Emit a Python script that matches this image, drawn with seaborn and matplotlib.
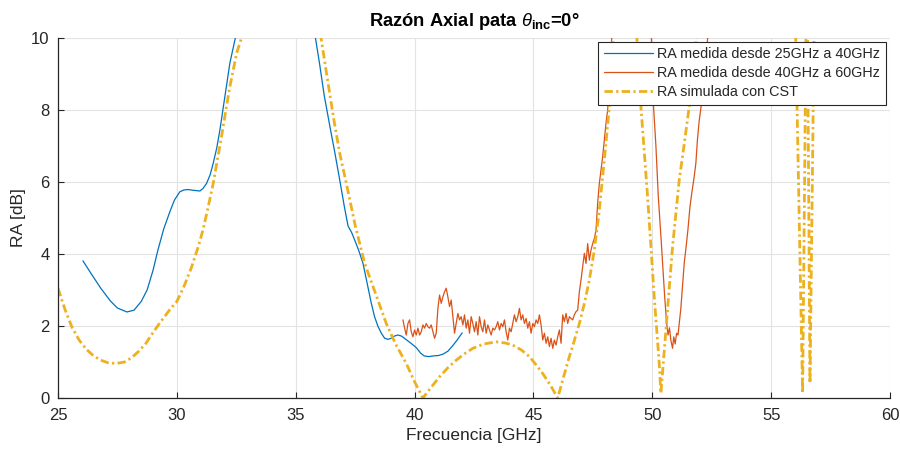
import matplotlib
matplotlib.use("Agg")
import matplotlib.pyplot as plt
import seaborn as sns
import pandas as pd

# ---------------- data ----------------
blue_freq = [26.05, 26.4, 26.8, 27.2, 27.5, 27.9, 28.2, 28.5, 28.75, 29.0, 29.2, 29.45,
             29.71, 29.9, 30.13, 30.3, 30.48, 30.7, 30.97, 31.1, 31.25, 31.4, 31.53,
             31.68, 31.81, 32.02, 32.23, 32.46, 32.7, 33.5, 34.5, 35.3, 35.83, 36.0,
             36.2, 36.45, 36.65, 36.85, 37.05, 37.2, 37.35, 37.48, 37.65, 37.83, 38.0,
             38.18, 38.32, 38.46, 38.6, 38.74, 38.88, 39.02, 39.15, 39.3, 39.45, 39.65,
             39.85, 40.07, 40.25, 40.4, 40.6, 40.8, 41.0, 41.2, 41.4, 41.6, 41.8, 42.0]
blue_ra = [3.81, 3.45, 3.05, 2.7, 2.5, 2.39, 2.44, 2.68, 3.0, 3.55, 4.1, 4.7,
           5.18, 5.5, 5.73, 5.78, 5.79, 5.77, 5.75, 5.82, 5.96, 6.2, 6.52,
           6.95, 7.44, 8.37, 9.3, 10.0, 11.5, 14.0, 14.0, 11.8, 10.0, 9.3,
           8.4, 7.5, 6.8, 6.06, 5.3, 4.78, 4.6, 4.39, 4.1, 3.74, 3.2,
           2.63, 2.25, 1.99, 1.8, 1.66, 1.63, 1.66, 1.72, 1.75, 1.72, 1.62,
           1.52, 1.40, 1.25, 1.17, 1.15, 1.17, 1.18, 1.22, 1.3, 1.45, 1.62, 1.81]

orange_freq = [39.51, 39.58, 39.65, 39.72, 39.79, 39.86, 39.93, 40.00, 40.07, 40.14,
               40.21, 40.28, 40.35, 40.42, 40.49, 40.56, 40.63, 40.70, 40.77, 40.84,
               40.91, 40.98, 41.05, 41.12, 41.19, 41.26, 41.33, 41.40, 41.47, 41.54,
               41.61, 41.68, 41.75, 41.82, 41.89, 41.96, 42.03, 42.10, 42.17, 42.24,
               42.31, 42.38, 42.45, 42.52, 42.59, 42.66, 42.73, 42.80, 42.87, 42.94,
               43.01, 43.08, 43.15, 43.22, 43.29, 43.36,
               43.43, 43.50, 43.57, 43.64, 43.71, 43.78, 43.85, 43.92, 43.99, 44.06,
               44.13, 44.20, 44.27, 44.34, 44.41, 44.48, 44.55, 44.62, 44.69, 44.76,
               44.83, 44.90, 44.97, 45.04, 45.11, 45.18, 45.25, 45.32, 45.39, 45.46,
               45.53, 45.60, 45.67, 45.74, 45.81, 45.88, 45.95, 46.02, 46.09, 46.16,
               46.23, 46.30, 46.37, 46.44, 46.51, 46.58, 46.65, 46.72, 46.79, 46.86,
               46.93,
               47.00, 47.14, 47.21, 47.28, 47.35, 47.42, 47.49, 47.56, 47.63, 47.70,
               47.77, 47.84, 47.91, 47.98, 48.05, 48.12, 48.19, 48.26, 48.33,
               48.6, 49.2, 49.8, 49.95, 50.05, 50.15, 50.25, 50.35, 50.43, 50.52,
               50.6, 50.66, 50.72, 50.78, 50.85, 50.9, 50.96, 51.02, 51.08, 51.13,
               51.2, 51.27, 51.34, 51.42, 51.5, 51.58, 51.66, 51.75, 51.83, 51.9,
               51.97, 52.05, 52.12, 52.2, 52.28, 52.36, 52.8, 54.0, 56.0, 58.0, 60.0]
orange_ra = [2.17, 1.94, 1.75, 2.07, 2.17, 1.84, 1.70, 1.89, 1.75, 1.94,
             1.75, 1.84, 2.03, 1.94, 2.07, 1.98, 1.94, 2.03, 1.84, 1.66,
             1.80, 2.49, 2.86, 2.63, 2.81, 2.95, 3.05, 2.81, 2.54, 2.72,
             2.26, 1.80, 2.07, 2.35, 2.17, 2.26, 2.03, 2.31, 1.94, 2.17,
             1.80, 2.26, 2.07, 1.84, 2.12, 1.75, 2.26, 1.98, 1.84, 2.17,
             1.80, 2.03, 1.89, 1.75, 1.94, 1.89,
             1.98, 2.12, 1.89, 2.07, 1.98, 2.17, 1.84, 1.61, 1.94, 1.84,
             2.07, 2.31, 2.12, 2.26, 2.49, 2.17, 2.31, 2.07, 2.21, 1.94,
             2.12, 1.80, 2.07, 1.98, 2.17, 2.07, 2.31, 2.03, 1.61, 1.80,
             1.52, 1.70, 1.43, 1.66, 1.38, 1.61, 1.47, 1.70, 1.89, 1.52,
             2.31, 2.12, 2.35, 2.07, 2.26, 2.21, 2.17, 2.31, 2.40, 2.44,
             2.95,
             3.28, 4.02, 3.74, 4.29, 3.83, 4.11, 4.29, 4.43, 4.66, 5.41,
             5.96, 6.33, 6.70, 7.16, 7.63, 8.00, 8.74, 9.66, 10.4,
             12.5, 13.5, 11.5, 10.2, 8.1, 7.0, 5.6, 4.6, 3.74, 2.8,
             2.1, 1.75, 1.95, 1.6, 1.38, 1.7, 1.5, 1.8, 1.75, 2.07,
             2.5, 3.1, 3.74, 4.2, 4.7, 5.3, 5.7, 6.1, 6.52, 7.2,
             7.7, 8.09, 8.5, 9.0, 9.6, 10.3, 12.5, 14.0, 13.5, 14.5, 13.0]

cst_freq = [25.0, 25.3, 25.6, 25.9, 26.2, 26.5, 26.8, 27.1, 27.45, 27.8, 28.1, 28.4,
            28.7, 29.0, 29.3, 29.7, 30.0, 30.3, 30.6, 30.9, 31.1, 31.3, 31.53, 31.7,
            31.88, 32.05, 32.23, 32.4, 32.51, 32.72, 33.0, 34.0, 35.0, 35.6, 36.08,
            36.3, 36.6, 36.85, 37.13, 37.5, 37.9, 38.25, 38.81, 39.2, 39.65, 40.0,
            40.35, 40.7, 41.05, 41.4, 41.75, 42.1, 42.45, 42.9, 43.43, 43.8, 44.13,
            44.5, 44.83, 45.1, 45.39, 45.7, 46.02, 46.25, 46.51, 46.72, 46.93, 47.15,
            47.35, 47.56, 47.75, 47.91, 48.05, 48.19, 48.35, 48.8, 49.1, 49.35,
            49.52, 49.8, 50.08, 50.29, 50.36, 50.57, 50.85, 51.13, 51.35, 51.55,
            51.85, 52.5, 54.0, 55.5, 56.03, 56.32, 56.46, 56.5, 56.53, 56.63, 56.8,
            57.2, 58.5, 60.0]
cst_ra = [3.05, 2.45, 1.95, 1.6, 1.35, 1.17, 1.05, 0.98, 0.96, 1.0, 1.12, 1.3,
          1.52, 1.82, 2.1, 2.45, 2.68, 3.1, 3.6, 4.2, 4.67, 5.25, 5.96, 6.6,
          7.26, 7.95, 8.65, 9.2, 9.57, 10.0, 11.5, 16.0, 16.0, 12.5, 9.94,
          9.0, 7.75, 6.8, 5.96, 4.8, 3.74, 3.1, 2.07, 1.5, 0.96, 0.45,
          0.0, 0.3, 0.59, 0.84, 1.05, 1.23, 1.38, 1.5, 1.56, 1.53, 1.47,
          1.33, 1.15, 0.93, 0.68, 0.37, 0.0, 0.55, 1.15, 1.6, 2.07, 2.65,
          3.28, 4.11, 5.1, 6.15, 7.1, 8.09, 10.0, 13.0, 12.5, 10.0,
          8.09, 5.59, 2.81, 0.96, 0.13, 1.89, 4.2, 6.05, 7.1, 8.09,
          10.0, 14.0, 16.0, 15.0, 10.0, 0.13, 10.0, 10.8, 10.0, 0.41, 10.0,
          15.0, 16.0, 15.0]

labels = ["RA medida desde 25GHz a 40GHz",
          "RA medida desde 40GHz a 60GHz",
          "RA simulada con CST"]
x_ticks = [25, 30, 35, 40, 45, 50, 55, 60]
y_ticks = [0, 2, 4, 6, 8, 10]

# ---------------- style ----------------
sns.set_theme(style="whitegrid")
plt.rcParams.update({
    "font.family": ["Liberation Sans", "DejaVu Sans"],
    "mathtext.fontset": "custom",
    "mathtext.rm": "Liberation Sans",
    "mathtext.it": "Liberation Sans:italic",
    "mathtext.bf": "Liberation Sans:bold",
    "axes.edgecolor": "#262626",
    "grid.color": "#e3e3e3",
    "grid.linewidth": 0.8,
    "xtick.direction": "in",
    "ytick.direction": "in",
    "xtick.bottom": True,
    "ytick.left": True,
    "xtick.major.size": 4,
    "ytick.major.size": 4,
    "xtick.color": "#262626",
    "ytick.color": "#262626",
})

fig = plt.figure(figsize=(9, 4.53), dpi=100)
ax = fig.add_axes([0.0644, 0.1214, 0.9246, 0.7947])

df_b = pd.DataFrame({"f": blue_freq, "ra": blue_ra})
df_o = pd.DataFrame({"f": orange_freq, "ra": orange_ra})
df_c = pd.DataFrame({"f": cst_freq, "ra": cst_ra})

sns.lineplot(data=df_b, x="f", y="ra", ax=ax, color="#0072BD", lw=0.9,
             label=labels[0], estimator=None, sort=False)
sns.lineplot(data=df_o, x="f", y="ra", ax=ax, color="#D95319", lw=0.9,
             label=labels[1], estimator=None, sort=False)
sns.lineplot(data=df_c, x="f", y="ra", ax=ax, color="#EDB120", lw=2.0,
             linestyle=(0, (3, 1.2, 0.8, 1.2)),
             label=labels[2], estimator=None, sort=False)

ax.set_xlim(25, 60)
ax.set_ylim(0, 10)
ax.set_xticks(x_ticks)
ax.set_yticks(y_ticks)
ax.tick_params(labelsize=12, width=0.8)
ax.tick_params(axis="x", pad=7)
ax.tick_params(axis="y", pad=6)
for s in ["top", "right"]:
    ax.spines[s].set_visible(False)
for s in ["left", "bottom"]:
    ax.spines[s].set_linewidth(0.9)
    ax.spines[s].set_color("#262626")

ax.set_xlabel("Frecuencia [GHz]", fontsize=12.5, color="#262626", labelpad=4)
ax.set_ylabel("RA [dB]", fontsize=12.5, color="#262626", labelpad=4)
ax.set_title(r"Razón Axial pata $\theta_{\mathbf{inc}}$=0°", fontsize=13.2,
             fontweight="bold", color="black", pad=9)

leg = ax.legend(loc="upper right", bbox_to_anchor=(0.995, 0.99), fontsize=10.4,
                frameon=True, fancybox=False, framealpha=1, edgecolor="#262626",
                handlelength=3.4, handletextpad=0.3, labelspacing=0.35,
                borderpad=0.4, borderaxespad=0.0)
leg.get_frame().set_linewidth(0.8)

fig.savefig("out.png", dpi=100)
